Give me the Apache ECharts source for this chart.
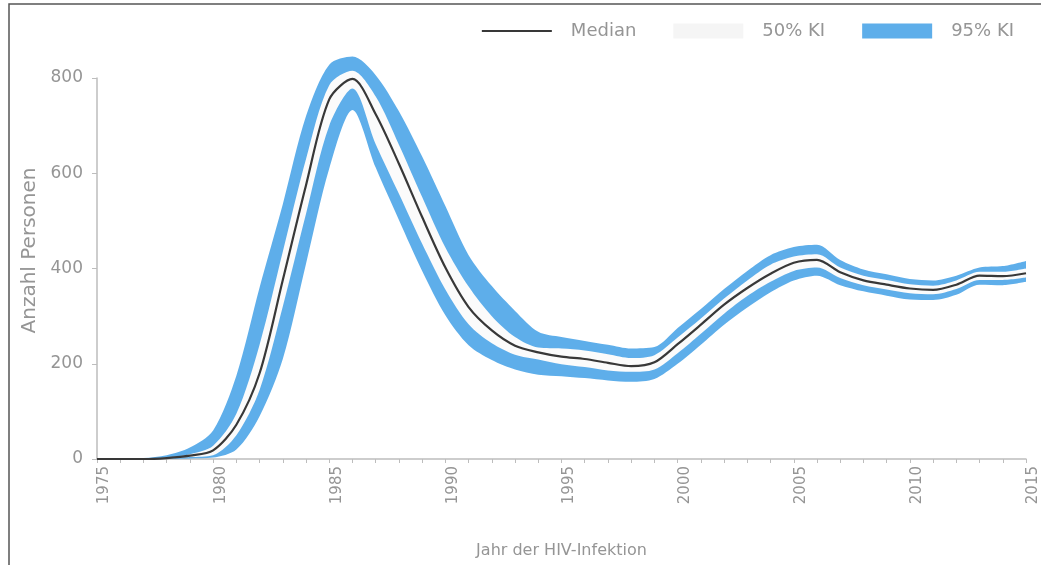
<!DOCTYPE html>
<html>
<head>
<meta charset="utf-8">
<script src="https://cdn.jsdelivr.net/npm/echarts@6/dist/echarts.min.js"></script>
<style>
  html, body { margin: 0; padding: 0; background: #fff; }
  #chart { width: 1041px; height: 565px; }
</style>
</head>
<body>
<div id="chart"></div>
<script>
var years = ['1975','1976','1977','1978','1979','1980','1981','1982','1983','1984','1985','1986','1987','1988','1989','1990','1991','1992','1993','1994',
             '1995','1996','1997','1998','1999','2000','2001','2002','2003','2004','2005','2006','2007','2008','2009','2010','2011','2012','2013','2014','2015'];
var median = [0,0,0,2,7,18,72,180,376,575,755,798,724,620,508,402,319,270,238,224,
              215,210,202,195,203,241,282,324,359,389,412,418,392,375,366,358,355,366,385,384,390];
var hi95 = [0,0,2,8,24,60,175,360,535,720,828,845,806,730,635,531,428,363,311,267,
            256,248,240,232,235,275,315,357,395,428,445,450,418,398,388,378,375,385,402,405,416];
var hi50 = [0,0,1,3,10,28,95,240,435,630,785,815,761,660,550,444,362,300,256,234,
            232,228,220,212,218,255,295,337,375,408,425,430,402,385,376,367,364,375,393,393,400];
var lo50 = [0,0,0,1,4,8,50,145,320,515,700,778,661,557,452,356,283,243,219,209,
            199,193,186,183,188,222,263,305,342,372,395,402,380,365,356,348,346,357,376,376,381];
var lo95 = [0,0,0,0,1,3,20,90,210,410,610,733,612,502,395,302,239,208,188,177,
            174,170,165,162,168,200,240,282,318,350,375,385,365,352,343,335,334,345,366,365,372];

var chart = echarts.init(document.getElementById('chart'));

// band thickness on top of the lower edge, for stacking
function diff(a, b) {
  return a.map(function (v, i) { return v - b[i]; });
}

var textGrey = '#959595';
var axisGrey = '#bdbdbd';
var blue = '#5eaeea';
var paleBand = '#fbfbfb';
var smooth = 0.3;

var option = {
  animation: false,
  backgroundColor: '#fff',
  graphic: [{
    type: 'polyline',
    shape: { points: [[9, 565], [9, 4], [1041, 4]] },
    style: { stroke: '#555', lineWidth: 1.5, fill: null }
  }],
  legend: {
    right: 22,
    top: 17,
    itemWidth: 70,
    itemHeight: 15,
    itemGap: 37,
    textStyle: { color: textGrey, fontSize: 18, fontFamily: 'DejaVu Sans', padding: [0, 0, 0, 14] },
    data: [
      { name: 'Median', itemStyle: { opacity: 0 } },
      { name: '50% KI', icon: 'rect' },
      { name: '95% KI', icon: 'rect' }
    ]
  },
  grid: { left: 97, right: 13, top: 78, bottom: 106 },
  xAxis: {
    type: 'category',
    data: years,
    boundaryGap: false,
    name: 'Jahr der HIV-Infektion',
    nameLocation: 'middle',
    nameGap: 84,
    nameTextStyle: { color: textGrey, fontSize: 16, fontFamily: 'DejaVu Sans' },
    axisLine: { lineStyle: { color: axisGrey, width: 1.5 } },
    axisTick: { interval: 0, length: 4, lineStyle: { color: axisGrey } },
    splitLine: { show: false },
    axisLabel: {
      interval: 4,
      rotate: 90,
      margin: 7,
      verticalAlign: 'top',
      color: textGrey,
      fontSize: 15,
      fontFamily: 'DejaVu Sans'
    }
  },
  yAxis: {
    type: 'value',
    min: 0,
    max: 800,
    interval: 200,
    name: 'Anzahl Personen',
    nameLocation: 'middle',
    nameGap: 56,
    nameTextStyle: { color: textGrey, fontSize: 20, fontFamily: 'DejaVu Sans', padding: [0, 0, 0, 36] },
    axisLine: { show: true, lineStyle: { color: axisGrey, width: 1.5 } },
    axisTick: { show: true, length: 5, lineStyle: { color: axisGrey } },
    splitLine: { show: false },
    axisLabel: { color: textGrey, fontSize: 17, fontFamily: 'DejaVu Sans', margin: 14 }
  },
  series: [
    {
      name: 'lo95', type: 'line', stack: 'b95', data: lo95,
      smooth: smooth, symbol: 'none', clip: false, silent: true,
      lineStyle: { opacity: 0 }
    },
    {
      name: '95% KI', type: 'line', stack: 'b95', data: diff(hi95, lo95),
      smooth: smooth, symbol: 'none', clip: false,
      lineStyle: { width: 0, opacity: 0 },
      itemStyle: { color: blue },
      areaStyle: { color: blue, opacity: 1 }
    },
    {
      name: 'lo50', type: 'line', stack: 'b50', data: lo50,
      smooth: smooth, symbol: 'none', clip: false, silent: true,
      lineStyle: { opacity: 0 }
    },
    {
      name: '50% KI', type: 'line', stack: 'b50', data: diff(hi50, lo50),
      smooth: smooth, symbol: 'none', clip: false,
      lineStyle: { width: 0, opacity: 0 },
      itemStyle: { color: '#f5f5f5' },
      areaStyle: { color: paleBand, opacity: 1 }
    },
    {
      name: 'Median', type: 'line', data: median,
      smooth: smooth, symbol: 'none', clip: false,
      itemStyle: { color: '#383838' },
      lineStyle: { color: '#383838', width: 2.2 }
    }
  ]
};

chart.setOption(option);
</script>
</body>
</html>
